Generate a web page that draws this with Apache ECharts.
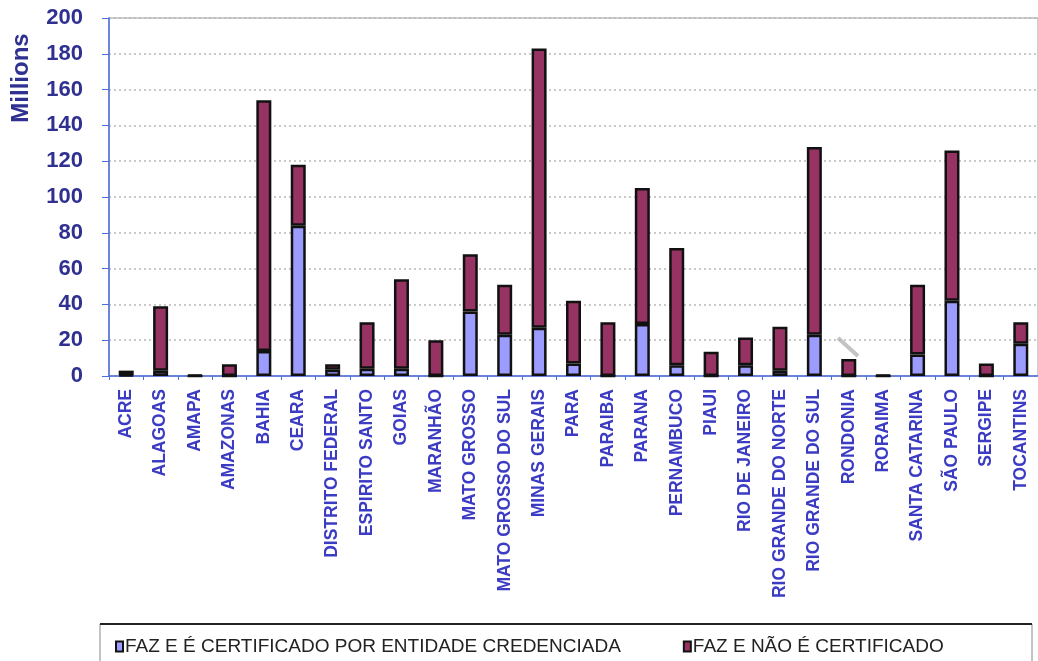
<!DOCTYPE html>
<html>
<head>
<meta charset="utf-8">
<script src="https://cdn.jsdelivr.net/npm/echarts@6/dist/echarts.min.js"></script>
<style>
html,body{margin:0;padding:0;background:#fff;}
#chart{width:1038px;height:661px;}
</style>
</head>
<body>
<div id="chart"></div>
<script>
// States (Brazil)
const states = ['ACRE','ALAGOAS','AMAPA','AMAZONAS','BAHIA','CEARA','DISTRITO FEDERAL','ESPIRITO SANTO','GOIAS','MARANHÃO','MATO GROSSO','MATO GROSSO DO SUL','MINAS GERAIS','PARA','PARAIBA','PARANA','PERNAMBUCO','PIAUI','RIO DE JANEIRO','RIO GRANDE DO NORTE','RIO GRANDE DO SUL','RONDONIA','RORAIMA','SANTA CATARINA','SÃO PAULO','SERGIPE','TOCANTINS'];

// Certified by an accredited entity (millions)
const certified = [0.5, 3, 0, 0, 14, 84, 3.5, 4, 4, 0, 36, 23, 27, 7, 0, 29, 6, 0, 6, 3, 23, 0, 0, 12, 42, 0, 18];

// Not certified (millions)
const notCertified = [2.5, 36, 0.6, 6.5, 140, 34, 3, 26, 50, 20, 32, 28, 156, 35, 30, 76, 65.5, 13.5, 15.5, 24.5, 105, 9.5, 0.5, 39, 84, 7, 12];

const yTicks = [0, 20, 40, 60, 80, 100, 120, 140, 160, 180, 200];

const axisBlue = '#4a6ee0';
const chart = echarts.init(document.getElementById('chart'), null, {renderer: 'canvas'});

chart.setOption({
  animation: false,
  backgroundColor: '#ffffff',
  grid: {
    left: 109, top: 18, width: 937, bottom: 285,
    show: true, borderColor: '#9a9a9a', borderWidth: 1, backgroundColor: 'transparent'
  },
  legend: {
    left: 110, top: 632,
    itemWidth: 7, itemHeight: 10, itemGap: 62,
    icon: 'rect',
    textStyle: {fontFamily: 'Liberation Sans', fontSize: 19, color: '#222', padding: [0, 0, 0, -3]},
    data: ['FAZ E É CERTIFICADO POR ENTIDADE CREDENCIADA', 'FAZ E NÃO É CERTIFICADO']
  },
  xAxis: {
    type: 'category',
    data: states,
    axisLine: {lineStyle: {color: axisBlue, width: 1.5}},
    axisTick: {show: true, length: 4, lineStyle: {color: axisBlue}},
    axisLabel: {
      rotate: 90, interval: 0, margin: 13,
      fontFamily: 'Liberation Sans', fontWeight: 'bold', fontSize: 17.5, color: '#3b3bc4'
    }
  },
  yAxis: {
    type: 'value',
    min: yTicks[0], max: yTicks[yTicks.length - 1], interval: 20,
    axisLine: {show: true, lineStyle: {color: axisBlue, width: 1.5}},
    axisTick: {show: true, length: 7, lineStyle: {color: axisBlue}},
    axisLabel: {
      margin: 26,
      fontFamily: 'Liberation Sans', fontWeight: 'bold', fontSize: 22, color: '#2f3090',
      formatter: v => yTicks.includes(v) ? String(v) : ''
    },
    splitLine: {lineStyle: {color: '#b8b8b8', type: [2, 3], width: 1.5}}
  },
  series: [
    {
      name: 'FAZ E É CERTIFICADO POR ENTIDADE CREDENCIADA',
      type: 'bar', stack: 'total', barWidth: 15,
      itemStyle: {color: '#9c9cff', borderColor: '#111', borderWidth: 2.5},
      data: certified
    },
    {
      name: 'FAZ E NÃO É CERTIFICADO',
      type: 'bar', stack: 'total', barWidth: 15,
      itemStyle: {color: '#973363', borderColor: '#111', borderWidth: 2.5},
      data: notCertified
    }
  ],
  graphic: [
    {
      type: 'text', x: 21, y: 78, rotation: Math.PI / 2,
      style: {text: 'Millions', fontFamily: 'Liberation Sans', fontWeight: 'bold', fontSize: 24,
        fill: '#2f3090', align: 'center', verticalAlign: 'middle'}
    },
    {
      type: 'rect', shape: {x: 100, y: 624, width: 932, height: 50},
      style: {fill: 'none', stroke: '#888', lineWidth: 1}, z: -1
    },
    {
      type: 'line', shape: {x1: 100, y1: 624, x2: 1032, y2: 624},
      style: {stroke: '#222', lineWidth: 2}
    },
    {
      type: 'line', shape: {x1: 838, y1: 338, x2: 858, y2: 356},
      style: {stroke: 'rgba(170,170,170,0.7)', lineWidth: 4}
    }
  ]
});
</script>
</body>
</html>
